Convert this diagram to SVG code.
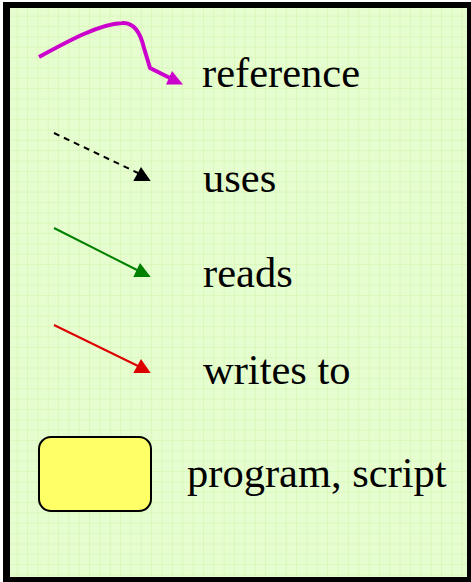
<svg xmlns="http://www.w3.org/2000/svg" width="471" height="582" viewBox="0 0 471 582">
  <defs>
    <pattern id="grid" x="6.3" y="5.3" width="10.35" height="10.35" patternUnits="userSpaceOnUse">
      <rect width="10.35" height="10.35" fill="#e6fdd0"/>
      <path d="M0,0 H10.35 M0,0 V10.35" stroke="#cff5a8" stroke-width="1" fill="none"/>
    </pattern>
    <style>
      .label { font-family: "Liberation Serif", "Times New Roman", serif; font-size: 42.5px; fill: #000; }
      .line { fill: none; stroke-width: 2; }
    </style>
  </defs>

  <!-- frame and grid paper -->
  <rect x="3" y="2" width="468" height="580" fill="#000"/>
  <rect x="10" y="8" width="457" height="569" fill="url(#grid)"/>

  <g id="connectors">
    <!-- reference -->
    <g id="legend-reference">
      <path d="M39,57 C70,40 100,24 122,23 C135,22 141,35 144,48 L150,68 L170,78" fill="none" stroke="#cc00cc" stroke-width="4" stroke-linejoin="round"/>
      <polygon points="172,71 166,84.5 183,84.5" fill="#cc00cc"/>
    </g>
    <!-- uses -->
    <g id="legend-uses">
      <path class="line" d="M54,133 L138,173" stroke="#000" stroke-dasharray="6,5"/>
      <polygon points="141,167 133.3,181 150.7,181" fill="#000"/>
    </g>
    <!-- reads -->
    <g id="legend-reads">
      <path class="line" d="M54,228 L137,270" stroke="#008000"/>
      <polygon points="140,263 133.3,277 150.7,277" fill="#008000"/>
    </g>
    <!-- writes to -->
    <g id="legend-writes">
      <path class="line" d="M54,325 L138,366" stroke="#dd0000"/>
      <polygon points="141,359 133.3,373 150.7,373" fill="#dd0000"/>
    </g>
  </g>

  <g id="node-program">
    <rect x="39" y="437" width="112" height="74" rx="12" ry="12" fill="#ffff66" stroke="#000" stroke-width="2"/>
  </g>

  <g id="labels">
    <text class="label" x="202" y="87">reference</text>
    <text class="label" x="203" y="192">uses</text>
    <text class="label" x="203" y="287">reads</text>
    <text class="label" x="203" y="384">writes to</text>
    <text class="label" x="187" y="487">program, script</text>
  </g>
</svg>
